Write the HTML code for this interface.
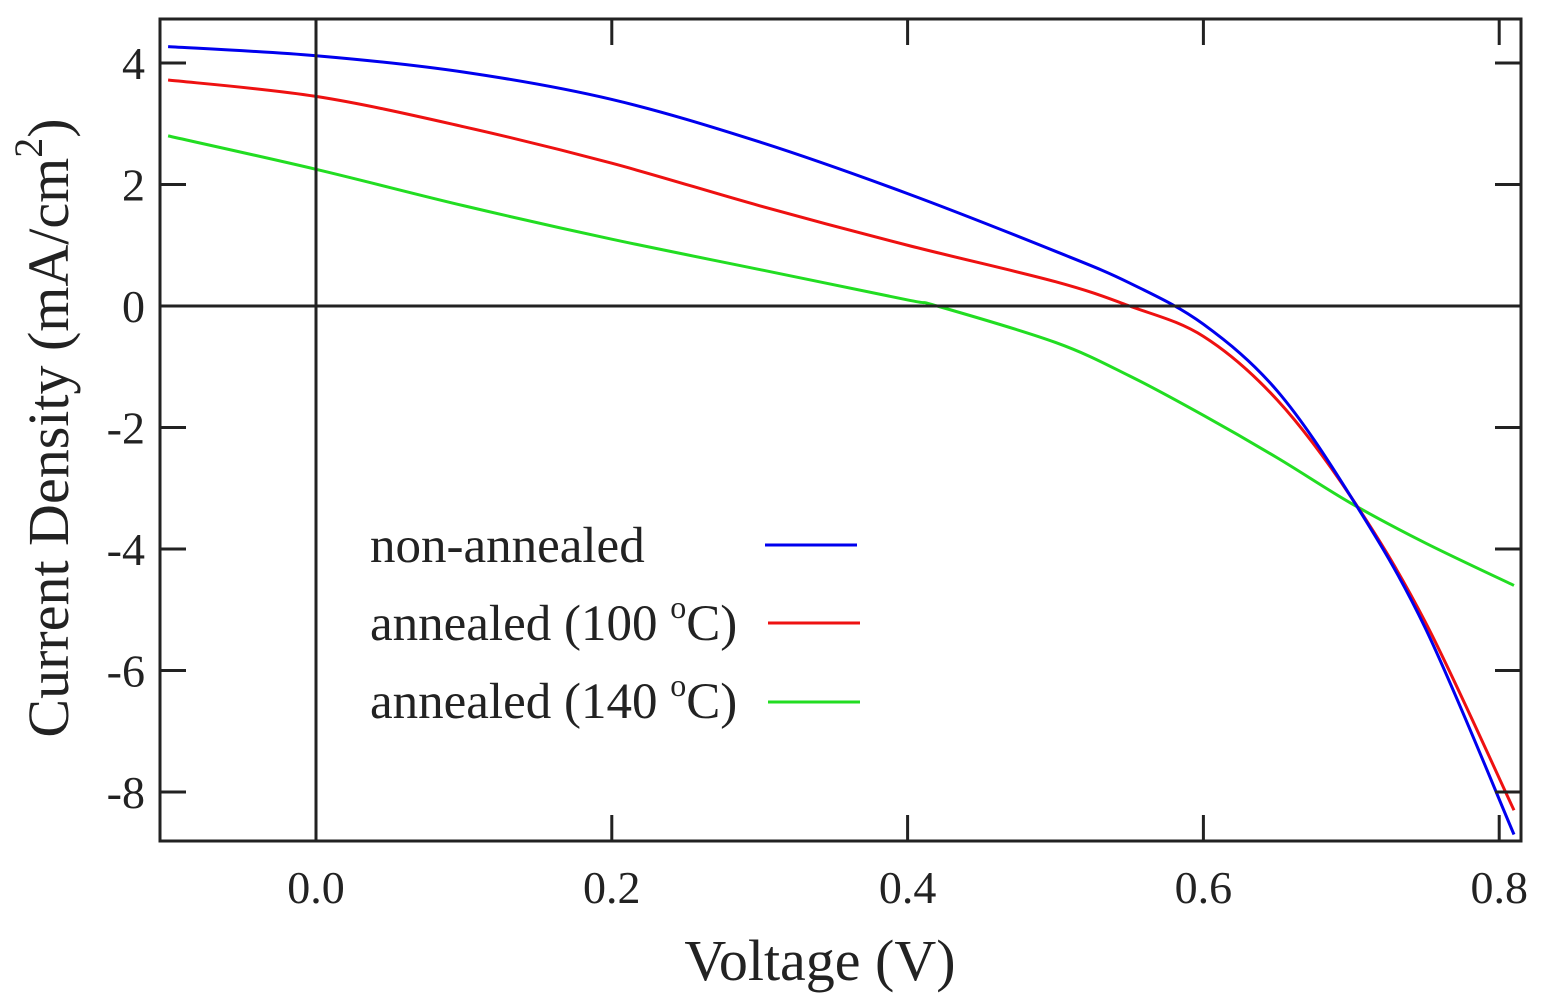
<!DOCTYPE html>
<html><head><meta charset="utf-8"><style>
html,body{margin:0;padding:0;background:#fff}
svg text{font-family:"Liberation Serif",serif;fill:#222}
</style></head><body>
<svg id="chart" width="1549" height="1000" viewBox="0 0 1549 1000">
<g id="marks"></g>
<g id="axes"></g>
<text x="68" y="428" font-size="58" text-anchor="middle" transform="rotate(-90 68 428)">Current Density (mA/cm<tspan dy="-26" font-size="40">2</tspan><tspan dy="26">)</tspan></text>
<text x="820" y="980" font-size="58" text-anchor="middle">Voltage (V)</text>
<g>
<text x="370" y="562" font-size="51">non-annealed</text>
<line x1="765" y1="545" x2="857" y2="545" stroke="#0000ee" stroke-width="3"/>
<text x="370" y="640" font-size="51">annealed (100 <tspan dy="-22" font-size="32">o</tspan><tspan dy="22">C)</tspan></text>
<line x1="768" y1="623" x2="860" y2="623" stroke="#ee1111" stroke-width="3"/>
<text x="370" y="718" font-size="51">annealed (140 <tspan dy="-22" font-size="32">o</tspan><tspan dy="22">C)</tspan></text>
<line x1="768" y1="702" x2="860" y2="702" stroke="#22dd22" stroke-width="3"/>
</g>
</svg>
<script>
const blueX=[-0.1,0,0.1,0.2,0.3,0.4,0.5,0.55,0.6,0.65,0.7,0.75,0.81];
const blueY=[4.27,4.12,3.85,3.4,2.7,1.85,0.9,0.38,-0.3,-1.4,-3.15,-5.3,-8.7];
const redX=[-0.1,0,0.1,0.2,0.3,0.4,0.5,0.55,0.6,0.65,0.7,0.75,0.81];
const redY=[3.72,3.45,2.95,2.35,1.65,1.0,0.4,0,-0.5,-1.55,-3.15,-5.2,-8.3];
const greenX=[-0.1,0,0.1,0.2,0.3,0.4,0.42,0.5,0.55,0.6,0.65,0.7,0.75,0.81];
const greenY=[2.8,2.25,1.65,1.1,0.6,0.1,0,-0.6,-1.15,-1.8,-2.5,-3.25,-3.9,-4.6];
const xTicks=[0,0.2,0.4,0.6,0.8];
const xTickLabels=["0.0","0.2","0.4","0.6","0.8"];
const yTicks=[4,2,0,-2,-4,-6,-8];
const yTickLabels=["4","2","0","-2","-4","-6","-8"];

const L=160,R=1521,T=19,B=841;
function sx(v){return 316+v*1479;}
function sy(v){return 306-v*60.75;}
const NS="http://www.w3.org/2000/svg";
const marks=document.getElementById('marks'),axes=document.getElementById('axes');
function mk(tag,attrs,parent){const e=document.createElementNS(NS,tag);for(const k in attrs)e.setAttribute(k,attrs[k]);parent.appendChild(e);return e;}
function curve(xs,ys){
  const p=xs.map((x,i)=>[sx(x),sy(ys[i])]);
  let d="M"+p[0][0]+","+p[0][1];
  for(let i=0;i<p.length-1;i++){
    const p0=p[i-1]||p[i],p1=p[i],p2=p[i+1],p3=p[i+2]||p2;
    const c1=[p1[0]+(p2[0]-p0[0])/6,p1[1]+(p2[1]-p0[1])/6];
    const c2=[p2[0]-(p3[0]-p1[0])/6,p2[1]-(p3[1]-p1[1])/6];
    d+=" C"+c1+" "+c2+" "+p2;
  }
  return d;
}
let zl=mk('line',{x1:sx(0),x2:sx(0),y1:T,y2:B,stroke:'#222','stroke-width':3},axes);


let zh=mk('line',{x1:L,x2:R,y1:sy(0),y2:sy(0),stroke:'#222','stroke-width':3},axes);


[[greenX,greenY,'#22dd22','series-140c'],[redX,redY,'#ee1111','series-100c'],[blueX,blueY,'#0000ee','series-non-annealed']].forEach(s=>{
  const e=mk('path',{d:curve(s[0],s[1]),fill:'none',stroke:s[2],'stroke-width':3},marks);
  
  
});
const fr=mk('rect',{x:L,y:T,width:R-L,height:B-T,fill:'none',stroke:'#222','stroke-width':3},axes);


xTicks.forEach((v,i)=>{
  const x=sx(v);
  mk('line',{x1:x,x2:x,y1:B,y2:B-26,stroke:'#222','stroke-width':3},axes);
  mk('line',{x1:x,x2:x,y1:T,y2:T+26,stroke:'#222','stroke-width':3},axes);
  const t=mk('text',{x:x,y:903,'font-size':46,'text-anchor':'middle'},axes);
  t.textContent=xTickLabels[i];
  
  
});
yTicks.forEach((v,i)=>{
  const y=sy(v);
  mk('line',{x1:L,x2:L+26,y1:y,y2:y,stroke:'#222','stroke-width':3},axes);
  mk('line',{x1:R,x2:R-26,y1:y,y2:y,stroke:'#222','stroke-width':3},axes);
  const t=mk('text',{x:145,y:y+16,'font-size':46,'text-anchor':'end'},axes);
  t.textContent=yTickLabels[i];
  
  
});
</script>
</body></html>
